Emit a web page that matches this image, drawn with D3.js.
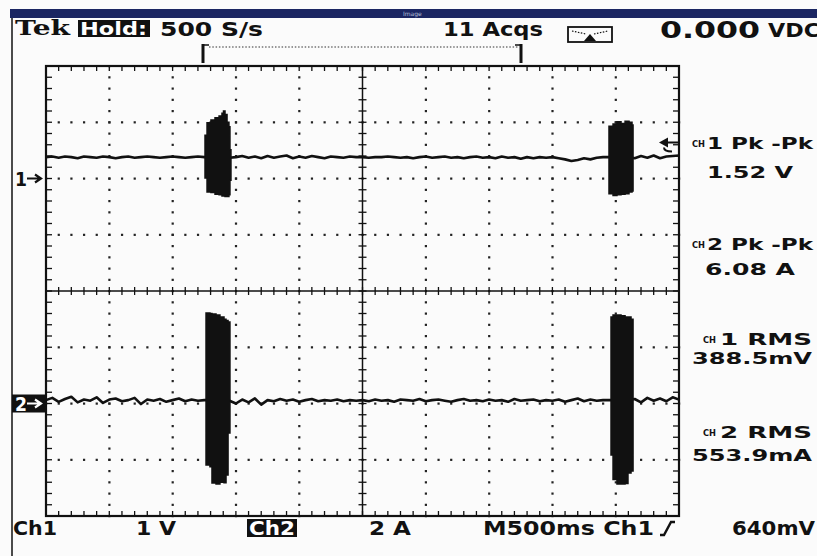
<!DOCTYPE html>
<html>
<head>
<meta charset="utf-8">
<script src="https://cdn.jsdelivr.net/npm/d3@7"></script>
<style>
  html, body { margin: 0; padding: 0; background: #fbfbfb; }
  svg { display: block; }
  text { font-family: "DejaVu Sans", sans-serif; font-weight: bold; fill: #111; }
</style>
</head>
<body>
<svg id="scope" width="817" height="556"></svg>
<script>
// ---- Acquisition settings ----
const horizDivs = 10, vertDivs = 8, minorPerDiv = 5;
const secPerDiv = 0.5;          // M500ms
const ch1VoltsPerDiv = 1;       // Ch1 1 V
const ch2AmpsPerDiv = 2;        // Ch2 2 A
const ch1GroundDiv = 2;         // divisions below the top edge
const ch2GroundDiv = 6;
const triggerLevel = 0.64;      // V, Ch1 rising edge
const sampleStep = 0.05;        // s between stored points

// ---- Ch1 voltage record (V), one value per sampleStep ----
const ch1Volts = [
  0.38,0.39,0.37,0.39,0.38,0.36,0.39,0.38,0.37,0.39,
  0.38,0.36,0.38,0.39,0.37,0.38,0.39,0.38,0.37,0.38,
  0.39,0.38,0.37,0.38,0.39,0.38,0.38,0.38,0.38,0.37,
  0.38,0.40,0.37,0.39,0.36,0.40,0.37,0.39,0.41,0.36,
  0.39,0.37,0.40,0.38,0.36,0.39,0.38,0.37,0.39,0.38,
  0.38,0.37,0.38,0.38,0.39,0.38,0.37,0.38,0.36,0.38,
  0.39,0.37,0.38,0.39,0.37,0.38,0.36,0.38,0.39,0.37,
  0.38,0.36,0.39,0.37,0.38,0.35,0.38,0.36,0.38,0.37,
  0.38,0.36,0.34,0.31,0.33,0.36,0.34,0.37,0.38,0.38,
  0.38,0.38,0.38,0.36,0.40,0.37,0.41,0.36,0.39,0.40,
  0.41
];

// ---- Ch2 current record (A), one value per sampleStep ----
const ch2Amps = [
  0.12,0.20,0.06,0.16,0.24,0.04,0.14,0.10,0.22,0.02,
  0.14,0.18,0.08,0.12,0.20,-0.02,0.14,0.10,0.16,0.06,
  0.12,0.18,0.08,0.14,0.10,0.12,0.12,0.12,0.12,0.10,
  0.00,0.14,0.04,0.18,-0.04,0.12,0.08,0.16,0.10,0.14,
  0.06,0.12,0.16,0.08,0.12,0.10,0.14,0.08,0.12,0.10,
  0.12,0.08,0.14,0.10,0.12,0.06,0.14,0.12,0.10,0.16,
  0.08,0.12,0.14,0.10,0.06,0.12,0.16,0.10,0.12,0.08,
  0.14,0.10,0.12,0.06,0.16,0.10,0.12,0.14,0.08,0.12,
  0.10,0.14,0.06,0.12,0.18,0.08,0.14,0.10,0.12,0.12,
  0.12,0.12,0.12,0.16,0.04,0.20,0.10,0.18,0.08,0.22,
  0.14
];

// ---- Burst envelopes: [time s, max, min] ----
const ch1BurstA = [
  [1.248,0.38,0.38],[1.256,0.77,0.01],[1.272,0.99,-0.24],[1.303,1.04,-0.25],
  [1.335,1.08,-0.28],[1.367,1.11,-0.29],[1.390,1.16,-0.31],[1.402,1.20,-0.31],
  [1.414,1.14,-0.32],[1.430,1.00,-0.32],[1.445,0.92,-0.29],[1.453,0.51,-0.03],
  [1.461,0.38,0.38]
];
const ch1BurstB = [
  [4.439,0.38,0.38],[4.447,0.93,-0.27],[4.479,0.97,-0.30],[4.510,1.01,-0.29],
  [4.542,0.98,-0.28],[4.574,1.02,-0.27],[4.605,1.00,-0.24],[4.629,0.95,-0.22],
  [4.637,0.40,0.36]
];
const ch2BurstA = [
  [1.256,0.12,0.12],[1.264,3.22,-2.19],[1.295,3.20,-2.25],[1.311,3.18,-2.83],
  [1.343,3.15,-2.86],[1.374,3.08,-2.80],[1.406,3.00,-2.82],[1.422,2.95,-2.54],
  [1.438,2.90,-1.05],[1.453,0.12,0.12]
];
const ch2BurstB = [
  [4.455,0.12,0.12],[4.463,3.08,-1.83],[4.479,3.15,-2.70],[4.510,3.15,-2.86],
  [4.542,3.12,-2.86],[4.574,3.08,-2.84],[4.597,3.08,-2.47],[4.621,3.00,-2.40],
  [4.637,0.12,0.12]
];

// ---- Readouts ----
const statusLabels = { brand: "Tek", mode: "Hold:", rate: "500 S/s", acqs: "11 Acqs", dc: "0.000", dcUnit: "VDC" };
const footerLabels = { ch1: "Ch1", ch1Scale: "1 V", ch2: "Ch2", ch2Scale: "2 A", timebase: "M500ms Ch1", trig: "640mV" };
const measNames  = ["1 Pk -Pk", "2 Pk -Pk", "1 RMS", "2 RMS"];
const measValues = ["1.52 V", "6.08 A", "388.5mV", "553.9mA"];

// ---- Layout ----
const svg = d3.select("#scope");
const plot = { left: 46, right: 679, top: 66, bottom: 516 };

const gx = d3.scaleLinear().domain([0, horizDivs]).range([plot.left, plot.right]);
const gy = d3.scaleLinear().domain([0, vertDivs]).range([plot.top, plot.bottom]);
const x = d3.scaleLinear().domain([0, horizDivs * secPerDiv]).range([plot.left, plot.right]);
const yV = d3.scaleLinear()
  .domain([-(vertDivs - ch1GroundDiv) * ch1VoltsPerDiv, ch1GroundDiv * ch1VoltsPerDiv])
  .range([plot.bottom, plot.top]);
const yA = d3.scaleLinear()
  .domain([-(vertDivs - ch2GroundDiv) * ch2AmpsPerDiv, ch2GroundDiv * ch2AmpsPerDiv])
  .range([plot.bottom, plot.top]);

// stretched label helper: fixed width, glyphs widened like the scope's display font
function label(tx, ty, size, len, str, color) {
  const t = svg.append("text").attr("x", tx).attr("y", ty).attr("font-size", size).text(str);
  if (len) t.attr("textLength", len).attr("lengthAdjust", "spacingAndGlyphs");
  if (color) t.style("fill", color);
  return t;
}

// Window chrome
svg.append("rect").attr("x", 10).attr("y", 9).attr("width", 807).attr("height", 9).attr("fill", "#1b2662");
svg.append("text").attr("x", 403).attr("y", 16).attr("font-size", 6).style("font-weight", "normal")
  .style("fill", "#b8bfd8").text("Image");
svg.append("line").attr("x1", 12).attr("x2", 12).attr("y1", 18).attr("y2", 556)
  .attr("stroke", "#111").attr("stroke-width", 1.5);

// Status line
label(15, 35, 20, 55, statusLabels.brand).style("font-family", "'DejaVu Serif', serif");
svg.append("rect").attr("x", 78).attr("y", 20).attr("width", 72).attr("height", 17).attr("fill", "#111");
label(80, 35, 17, 67, statusLabels.mode, "#fff");
label(160, 36, 19, 103, statusLabels.rate);
label(443, 36, 19, 100, statusLabels.acqs);
label(660, 38, 23, 100, statusLabels.dc);
label(768, 37, 19, 52, statusLabels.dcUnit);

// Acquisition-mode icon
const icon = svg.append("g");
icon.append("rect").attr("x", 568).attr("y", 27).attr("width", 44).attr("height", 15)
  .attr("fill", "none").attr("stroke", "#111").attr("stroke-width", 1.8);
icon.append("path").attr("d", "M572,31 L586,34 M594,34 L608,31")
  .attr("stroke", "#111").attr("stroke-width", 1.2).attr("stroke-dasharray", "1.5,1.5").attr("fill", "none");
icon.append("path").attr("d", "M584,41 L590,34 L596,41 Z").attr("fill", "#111");

// Record-view bracket above the graticule
svg.append("line").attr("x1", 209).attr("x2", 518).attr("y1", 47).attr("y2", 47)
  .attr("stroke", "#333").attr("stroke-width", 1.2).attr("stroke-dasharray", "1.5,1.8");
[[203, 1], [521, -1]].forEach(([bx, dir]) => {
  svg.append("line").attr("x1", bx).attr("x2", bx).attr("y1", 44).attr("y2", 63)
    .attr("stroke", "#111").attr("stroke-width", 3);
  svg.append("line").attr("x1", bx).attr("x2", bx + dir * 6).attr("y1", 45).attr("y2", 45)
    .attr("stroke", "#111").attr("stroke-width", 1.5);
});

// ---- Graticule ----
const grid = svg.append("g");
const minorCols = d3.range(0, horizDivs * minorPerDiv + 1).map(i => i / minorPerDiv);
const minorRows = d3.range(0, vertDivs * minorPerDiv + 1).map(i => i / minorPerDiv);

// dotted division lines
d3.range(1, horizDivs).filter(i => i !== horizDivs / 2).forEach(i => {
  grid.selectAll(null).data(minorRows).join("rect")
    .attr("x", gx(i) - 1).attr("y", d => gy(d) - 1).attr("width", 2.2).attr("height", 2.2).attr("fill", "#222");
});
d3.range(1, vertDivs).filter(i => i !== vertDivs / 2).forEach(i => {
  grid.selectAll(null).data(minorCols).join("rect")
    .attr("x", d => gx(d) - 1).attr("y", gy(i) - 1).attr("width", 2.2).attr("height", 2.2).attr("fill", "#222");
});

// center cross with minor ticks
grid.append("line").attr("x1", gx(horizDivs / 2)).attr("x2", gx(horizDivs / 2))
  .attr("y1", plot.top).attr("y2", plot.bottom).attr("stroke", "#111").attr("stroke-width", 1.5);
grid.append("line").attr("y1", gy(vertDivs / 2)).attr("y2", gy(vertDivs / 2))
  .attr("x1", plot.left).attr("x2", plot.right).attr("stroke", "#111").attr("stroke-width", 1.5);
grid.selectAll(null).data(minorRows).join("line")
  .attr("x1", gx(horizDivs / 2) - 4).attr("x2", gx(horizDivs / 2) + 4)
  .attr("y1", d => gy(d)).attr("y2", d => gy(d)).attr("stroke", "#111").attr("stroke-width", 1.3);
grid.selectAll(null).data(minorCols).join("line")
  .attr("y1", gy(vertDivs / 2) - 4).attr("y2", gy(vertDivs / 2) + 4)
  .attr("x1", d => gx(d)).attr("x2", d => gx(d)).attr("stroke", "#111").attr("stroke-width", 1.3);

// edge ticks
grid.selectAll(null).data(minorCols).join("line")
  .attr("x1", d => gx(d)).attr("x2", d => gx(d)).attr("y1", plot.top).attr("y2", plot.top + 5)
  .attr("stroke", "#111").attr("stroke-width", 1.3);
grid.selectAll(null).data(minorCols).join("line")
  .attr("x1", d => gx(d)).attr("x2", d => gx(d)).attr("y1", plot.bottom).attr("y2", plot.bottom - 5)
  .attr("stroke", "#111").attr("stroke-width", 1.3);
grid.selectAll(null).data(minorRows).join("line")
  .attr("y1", d => gy(d)).attr("y2", d => gy(d)).attr("x1", plot.left).attr("x2", plot.left + 6)
  .attr("stroke", "#111").attr("stroke-width", 1.3);
grid.selectAll(null).data(minorRows).join("line")
  .attr("y1", d => gy(d)).attr("y2", d => gy(d)).attr("x1", plot.right).attr("x2", plot.right - 6)
  .attr("stroke", "#111").attr("stroke-width", 1.3);

grid.append("rect").attr("x", plot.left).attr("y", plot.top)
  .attr("width", plot.right - plot.left).attr("height", plot.bottom - plot.top)
  .attr("fill", "none").attr("stroke", "#111").attr("stroke-width", 2.2);

// ---- Waveforms ----
svg.append("clipPath").attr("id", "plotClip").append("rect")
  .attr("x", plot.left).attr("y", plot.top).attr("width", plot.right - plot.left).attr("height", plot.bottom - plot.top);
const traces = svg.append("g").attr("clip-path", "url(#plotClip)");

const lineOf = yScale => d3.line().x((d, i) => x(i * sampleStep)).y(d => yScale(d));
const envelopeOf = yScale => d3.area().x(d => x(d[0])).y0(d => yScale(d[2])).y1(d => yScale(d[1]))
  .curve(d3.curveStepAfter);

[[ch1Volts, yV], [ch2Amps, yA]].forEach(([vals, ys]) => {
  traces.append("path").datum(vals).attr("d", lineOf(ys))
    .attr("fill", "none").attr("stroke", "#111").attr("stroke-width", 2.6).attr("stroke-linejoin", "round");
});
[[ch1BurstA, yV], [ch1BurstB, yV], [ch2BurstA, yA], [ch2BurstB, yA]].forEach(([env, ys]) => {
  traces.append("path").datum(env).attr("d", envelopeOf(ys))
    .attr("fill", "#111").attr("stroke", "#111").attr("stroke-width", 1.5);
});

// ---- Ground and trigger markers ----
const gnd1 = yV(0), gnd2 = yA(0), trig = yV(triggerLevel);
label(15, gnd1 + 7, 19, 12, "1");
svg.append("path").attr("d", `M27,${gnd1} L40,${gnd1} M35,${gnd1 - 4} L41,${gnd1} L35,${gnd1 + 4}`)
  .attr("stroke", "#111").attr("stroke-width", 2.2).attr("fill", "none");
svg.append("rect").attr("x", 12).attr("y", gnd2 - 9).attr("width", 33).attr("height", 18).attr("fill", "#111");
label(15, gnd2 + 7, 19, 12, "2", "#fff");
svg.append("path").attr("d", `M27,${gnd2} L40,${gnd2} M35,${gnd2 - 4} L41,${gnd2} L35,${gnd2 + 4}`)
  .attr("stroke", "#fff").attr("stroke-width", 2.2).attr("fill", "none");

svg.append("path").attr("d", `M659,${trig} L668,${trig - 5} L668,${trig + 5} Z`).attr("fill", "#111");
svg.append("path").attr("d", `M666,${trig} L678,${trig} M664,${trig + 5} Q664,${trig + 9} 672,${trig + 9}`)
  .attr("stroke", "#111").attr("stroke-width", 2).attr("fill", "none");

// ---- Footer readout ----
const footer = [
  [footerLabels.ch1, 13, 44], [footerLabels.ch1Scale, 136, 40],
  [footerLabels.ch2Scale, 369, 42], [footerLabels.timebase, 483, 171], [footerLabels.trig, 732, 83]
];
footer.forEach(([t, fx, len]) => label(fx, 535, 19, len, t));
svg.append("rect").attr("x", 247).attr("y", 519).attr("width", 50).attr("height", 18).attr("fill", "#111");
label(249, 535, 19, 46, footerLabels.ch2, "#fff");
// rising-edge trigger slope glyph
svg.append("path").attr("d", "M660,535 L664,535 L671,522 L675,522")
  .attr("stroke", "#111").attr("stroke-width", 2.4).attr("fill", "none");

// ---- Measurement panel ----
const measLayout = [
  { chX: 692, nameX: 707, nameLen: 106, nameY: 149, valX: 707, valLen: 86, valY: 178 },
  { chX: 692, nameX: 707, nameLen: 106, nameY: 250, valX: 705, valLen: 90, valY: 275 },
  { chX: 703, nameX: 720, nameLen: 92, nameY: 345, valX: 692, valLen: 120, valY: 364 },
  { chX: 703, nameX: 720, nameLen: 92, nameY: 438, valX: 692, valLen: 120, valY: 461 }
];
measLayout.forEach((m, i) => {
  label(m.chX, m.nameY - 2, 9, 13, "CH");
  label(m.nameX, m.nameY, 15, m.nameLen, measNames[i]);
  label(m.valX, m.valY, 16, m.valLen, measValues[i]);
});
</script>
</body>
</html>
